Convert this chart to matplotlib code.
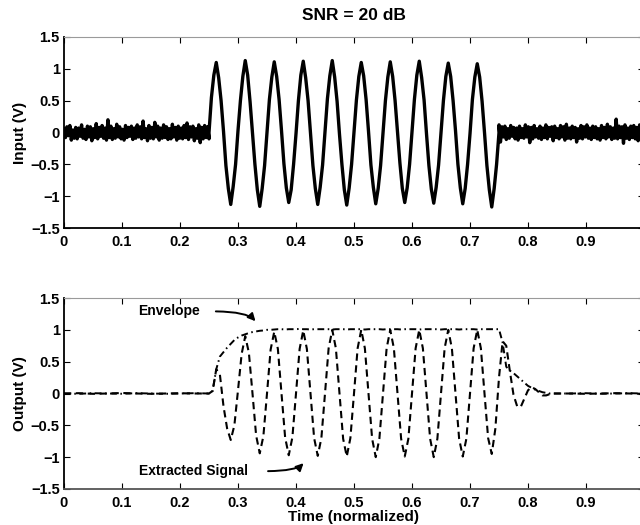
import numpy as np
import matplotlib
matplotlib.use("Agg")
import matplotlib.pyplot as plt
from matplotlib.ticker import FuncFormatter

plt.rcParams['font.family'] = ['Liberation Sans', 'DejaVu Sans']
plt.rcParams['font.weight'] = 'bold'

# ---- input (top panel) ----
noise_pre = [0.06, -0.08, 0.09, -0.05, 0.11, -0.12, 0.04, -0.09, 0.08, -0.1,
             0.07, -0.06, 0.12, -0.09, 0.05, -0.11, 0.1, -0.07, 0.09, -0.13,
             0.06, -0.08, 0.14, -0.1, 0.08, -0.06, 0.11, -0.09, 0.07, -0.12,
             0.2, -0.08, 0.1, -0.11, 0.06, -0.09, 0.13, -0.07, 0.09, -0.1,
             0.05, -0.12, 0.11, -0.08, 0.08, -0.06, 0.1, -0.11, 0.07, -0.09,
             0.12, -0.07, 0.09, -0.1, 0.18, -0.08, 0.06, -0.13, 0.11, -0.09,
             0.08, -0.1, 0.16, -0.07, 0.1, -0.12, 0.07, -0.09, 0.12, -0.08,
             0.09, -0.11, 0.06, -0.1, 0.13, -0.07, 0.08, -0.12, 0.1, -0.09,
             0.07, -0.1, 0.11, -0.08, 0.15, -0.11, 0.09, -0.07, 0.1, -0.13,
             0.06, -0.09, 0.12, -0.16, 0.08, -0.1, 0.11, -0.08, 0.09, -0.1]

# 12 samples per cycle, 10 cycles between t = 0.25 and 0.75
burst = [0.0, 0.55, 0.9, 1.1, 0.86, 0.5, 0.02, -0.52, -0.88, -1.13, -0.85, -0.5,
         0.03, 0.5, 0.88, 1.13, 0.9, 0.48, -0.02, -0.5, -0.9, -1.16, -0.88, -0.52,
         0.0, 0.52, 0.87, 1.11, 0.88, 0.52, 0.03, -0.49, -0.87, -1.1, -0.9, -0.5,
         -0.02, 0.5, 0.9, 1.12, 0.86, 0.5, 0.0, -0.52, -0.88, -1.13, -0.86, -0.51,
         0.02, 0.53, 0.89, 1.13, 0.87, 0.49, -0.03, -0.5, -0.9, -1.14, -0.87, -0.5,
         0.0, 0.51, 0.88, 1.1, 0.89, 0.52, 0.02, -0.51, -0.86, -1.12, -0.88, -0.52,
         -0.01, 0.5, 0.87, 1.11, 0.88, 0.5, 0.0, -0.48, -0.88, -1.1, -0.87, -0.5,
         0.02, 0.52, 0.9, 1.12, 0.86, 0.51, -0.02, -0.52, -0.89, -1.11, -0.86, -0.51,
         0.0, 0.5, 0.88, 1.09, 0.88, 0.5, 0.03, -0.5, -0.87, -1.12, -0.88, -0.5,
         -0.02, 0.52, 0.87, 1.08, 0.87, 0.49, 0.0, -0.52, -0.9, -1.17, -0.88, -0.5,
         0.0]

noise_post = [0.12, -0.15, 0.09, -0.07, 0.1, -0.11, 0.06, -0.09, 0.11, -0.06,
              0.08, -0.1, 0.07, -0.12, 0.1, -0.08, 0.06, -0.09, 0.12, -0.07,
              0.09, -0.16, 0.08, -0.1, 0.11, -0.07, 0.06, -0.09, 0.1, -0.11,
              0.07, -0.08, 0.12, -0.1, 0.08, -0.06, 0.09, -0.13, 0.1, -0.08,
              0.06, -0.1, 0.11, -0.07, 0.09, -0.12, 0.13, -0.09, 0.07, -0.1,
              0.1, -0.08, 0.08, -0.15, 0.06, -0.09, 0.11, -0.1, 0.09, -0.07,
              0.12, -0.09, 0.07, -0.11, 0.1, -0.08, 0.09, -0.1, 0.06, -0.12,
              0.11, -0.08, 0.08, -0.1, 0.13, -0.07, 0.09, -0.11, 0.07, -0.09,
              0.21, -0.1, 0.1, -0.08, 0.09, -0.17, 0.12, -0.09, 0.07, -0.11,
              0.1, -0.08, 0.11, -0.1, 0.08, -0.13, 0.12, -0.09, 0.07, -0.1]

# ---- output (bottom panel) ----
sig_pre = [0.0, 0.005, -0.005, 0.0, 0.008, 0.0, -0.005, 0.0, 0.004, 0.0]
sig_mid = [0.0, 0.04, 0.38, 0.3, -0.2, -0.55, -0.73, -0.5,
           0.05, 0.62, 0.9, 0.64, 0.0, -0.66, -0.94, -0.67,
           0.0, 0.69, 0.97, 0.7, 0.0, -0.69, -0.97, -0.69,
           0.0, 0.7, 0.99, 0.7, 0.0, -0.7, -0.98, -0.7,
           0.0, 0.71, 1.0, 0.71, 0.0, -0.71, -0.99, -0.7,
           0.0, 0.71, 1.0, 0.71, 0.0, -0.71, -1.0, -0.71,
           0.0, 0.71, 1.0, 0.71, 0.0, -0.71, -0.99, -0.71,
           0.0, 0.71, 1.0, 0.71, 0.0, -0.71, -1.0, -0.71,
           0.0, 0.71, 1.0, 0.71, 0.0, -0.71, -0.99, -0.71,
           0.0, 0.71, 1.0, 0.71, 0.0, -0.7, -0.95, -0.55,
           0.25, 0.82, 0.75, 0.35, -0.02, -0.2, -0.21, -0.08,
           0.05, 0.1, 0.07, 0.02, -0.03, -0.03, -0.01, 0.0, 0.0]
sig_post = [0.0, -0.005, 0.0, 0.005, 0.0, -0.005]

env_pre = [0.0, -0.005, 0.005, 0.0, -0.004, 0.005, 0.0, -0.005, 0.0, 0.005]
env_mid = [0.0, 0.04, 0.38, 0.58, 0.65, 0.72, 0.78, 0.84,
           0.88, 0.91, 0.93, 0.95, 0.965, 0.975, 0.985, 0.99,
           1.0, 1.0, 1.005, 1.01, 1.01, 1.005, 1.01, 1.01,
           1.01, 1.015, 1.01, 1.01, 1.005, 1.01, 1.01, 1.01,
           1.01, 1.01, 1.005, 1.01, 1.01, 1.01, 1.005, 1.01,
           1.01, 1.01, 1.01, 1.005, 1.01, 1.01, 1.01, 1.01,
           1.005, 1.01, 1.01, 1.01, 1.01, 1.005, 1.01, 1.01,
           1.01, 1.01, 1.005, 1.01, 1.01, 1.01, 1.01, 1.01,
           1.005, 1.01, 1.01, 1.01, 1.01, 1.005, 1.01, 1.01,
           1.01, 1.01, 1.005, 1.01, 1.01, 1.01, 1.01, 1.01,
           1.01, 0.8, 0.42, 0.36, 0.32, 0.27, 0.22, 0.17,
           0.12, 0.09, 0.06, 0.04, 0.02, 0.01, 0.0, 0.0, 0.0]
env_post = [0.0, 0.005, -0.004, 0.0, 0.005, 0.0]

t_in = np.concatenate([np.linspace(0, 0.25, len(noise_pre)),
                       np.linspace(0.25, 0.75, len(burst)),
                       np.linspace(0.75, 1.0, len(noise_post))])
v_in = np.concatenate([noise_pre, burst, noise_post])

t_out = np.concatenate([np.linspace(0, 0.225, len(sig_pre)),
                        np.linspace(0.25, 0.85, len(sig_mid)),
                        np.linspace(0.875, 1.0, len(sig_post))])
v_sig = np.concatenate([sig_pre, sig_mid, sig_post])
v_env = np.concatenate([env_pre, env_mid, env_post])

fig = plt.figure(figsize=(6.4, 5.25), dpi=100)
ax1 = fig.add_axes([64/640, 1 - 228/525, 580/640, 191/525])
ax2 = fig.add_axes([64/640, 1 - 489/525, 580/640, 191/525])

ax1.plot(t_in, v_in, color='black', lw=2.4)
ax2.plot(t_out, v_env, color='black', lw=1.4, linestyle=(0, (3.5, 1.8, 0.8, 1.8)))
ax2.plot(t_out, v_sig, color='black', lw=1.5, linestyle=(0, (3.5, 2.2)))

fmt = FuncFormatter(lambda v, p: ('%g' % v).replace('-', '\u2212'))
for ax in (ax1, ax2):
    ax.set_xlim(0, 1)
    ax.set_ylim(-1.5, 1.5)
    ax.set_xticks(np.arange(0, 1.0, 0.1))
    ax.set_yticks([-1.5, -1, -0.5, 0, 0.5, 1, 1.5])
    ax.xaxis.set_major_formatter(fmt)
    ax.yaxis.set_major_formatter(fmt)
    ax.tick_params(direction='in', top=True, right=True, length=4,
                   width=0.8, labelsize=10.5)
    ax.tick_params(axis='x', pad=5)
    ax.tick_params(axis='y', pad=3)
    for lab in ax.get_xticklabels() + ax.get_yticklabels():
        lab.set_fontweight('bold')
    ax.spines['left'].set_linewidth(1.3)
    ax.spines['bottom'].set_linewidth(1.3)
    ax.spines['top'].set_color('#9a9a9a')
    ax.spines['top'].set_linewidth(0.8)
ax2.spines['bottom'].set_color('#555555')

ax1.set_title('SNR = 20 dB', fontsize=12.5, fontweight='bold', pad=12)
ax1.set_ylabel('Input (V)', fontsize=11, fontweight='bold', labelpad=3)
ax2.set_ylabel('Output (V)', fontsize=11, fontweight='bold', labelpad=3)
ax2.set_xlabel('Time (normalized)', fontsize=11, fontweight='bold', labelpad=0)

ax2.text(0.128, 1.29, 'Envelope', fontsize=10, fontweight='bold', va='center')
ax2.annotate('', xy=(0.333, 1.1), xytext=(0.257, 1.29),
             arrowprops=dict(arrowstyle='-|>', color='black', lw=1.4,
                             mutation_scale=11,
                             connectionstyle='angle3,angleA=0,angleB=120'))
ax2.text(0.13, -1.22, 'Extracted Signal', fontsize=10, fontweight='bold', va='center')
ax2.annotate('', xy=(0.416, -1.06), xytext=(0.347, -1.22),
             arrowprops=dict(arrowstyle='-|>', color='black', lw=1.4,
                             mutation_scale=11,
                             connectionstyle='angle3,angleA=0,angleB=60'))

fig.savefig('out.png', dpi=100)
